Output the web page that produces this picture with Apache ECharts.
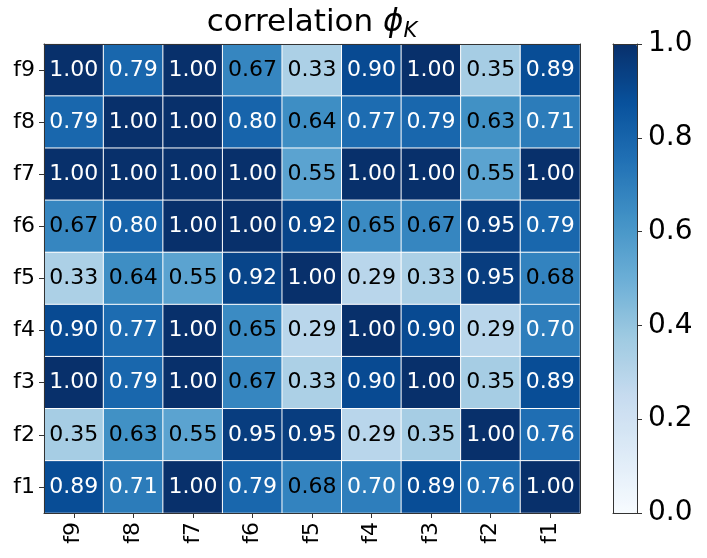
<!DOCTYPE html>
<html>
<head>
<meta charset="utf-8">
<script src="https://cdn.jsdelivr.net/npm/echarts@6/dist/echarts.min.js"></script>
<style>
html,body{margin:0;padding:0;background:#fff;}
#chart{width:707px;height:558px;}
</style>
</head>
<body>
<div id="chart"></div>
<script>
// x categories (left to right) and y categories (bottom to top)
const xCats = ['f9', 'f8', 'f7', 'f6', 'f5', 'f4', 'f3', 'f2', 'f1'];
const yCats = ['f1', 'f2', 'f3', 'f4', 'f5', 'f6', 'f7', 'f8', 'f9'];
// rows, listed top (f9) to bottom (f1); columns follow xCats
const rowF9 = [1.00, 0.79, 1.00, 0.67, 0.33, 0.90, 1.00, 0.35, 0.89];
const rowF8 = [0.79, 1.00, 1.00, 0.80, 0.64, 0.77, 0.79, 0.63, 0.71];
const rowF7 = [1.00, 1.00, 1.00, 1.00, 0.55, 1.00, 1.00, 0.55, 1.00];
const rowF6 = [0.67, 0.80, 1.00, 1.00, 0.92, 0.65, 0.67, 0.95, 0.79];
const rowF5 = [0.33, 0.64, 0.55, 0.92, 1.00, 0.29, 0.33, 0.95, 0.68];
const rowF4 = [0.90, 0.77, 1.00, 0.65, 0.29, 1.00, 0.90, 0.29, 0.70];
const rowF3 = [1.00, 0.79, 1.00, 0.67, 0.33, 0.90, 1.00, 0.35, 0.89];
const rowF2 = [0.35, 0.63, 0.55, 0.95, 0.95, 0.29, 0.35, 1.00, 0.76];
const rowF1 = [0.89, 0.71, 1.00, 0.79, 0.68, 0.70, 0.89, 0.76, 1.00];
const rowsTopDown = [rowF9, rowF8, rowF7, rowF6, rowF5, rowF4, rowF3, rowF2, rowF1];
const colorbarTicks = [0.0, 0.2, 0.4, 0.6, 0.8, 1.0];

const blues = ['#f7fbff', '#deebf7', '#c6dbef', '#9ecae1', '#6baed6', '#4292c6', '#2171b5', '#08519c', '#08306b'];
const FONT = 'DejaVu Sans';

const data = [];
rowsTopDown.forEach((row, r) => {
  row.forEach((v, c) => {
    data.push({
      value: [c, yCats.length - 1 - r, v],
      label: { color: v > 0.69 ? '#ffffff' : '#000000' }
    });
  });
});

const spine = { show: true, onZero: false, lineStyle: { color: '#333', width: 1 } };
const G = { left: 44, top: 44, width: 536, height: 469 };
const CB = { left: 613, top: 44, width: 24, height: 469 };

const chart = echarts.init(document.getElementById('chart'), null, { renderer: 'canvas' });
chart.setOption({
  backgroundColor: '#ffffff',
  animation: false,
  title: {
    text: '{a|correlation }{b|ϕ}{c|K}',
    left: 312, textAlign: 'center', top: 4, padding: 0,
    textStyle: {
      fontWeight: 'normal',
      rich: {
        a: { fontFamily: FONT, fontSize: 31, fontWeight: 'normal', color: '#000', lineHeight: 38 },
        b: { fontFamily: FONT, fontSize: 31, fontWeight: 'normal', fontStyle: 'italic', color: '#000', lineHeight: 38 },
        c: { fontFamily: FONT, fontSize: 21, fontWeight: 'normal', fontStyle: 'italic', color: '#000', lineHeight: 21, padding: [16, 0, 0, 0], verticalAlign: 'bottom' }
      }
    }
  },
  grid: [
    Object.assign({ containLabel: false }, G),
    Object.assign({ containLabel: false }, CB)
  ],
  xAxis: [
    {
      gridIndex: 0, type: 'category', data: xCats, position: 'bottom', z: 10,
      axisLine: spine,
      axisTick: { show: true, alignWithLabel: true, length: 5, lineStyle: { color: '#333' } },
      axisLabel: { rotate: 90, fontFamily: FONT, fontSize: 22, color: '#000', margin: 9 },
      splitLine: { show: false }
    },
    {
      gridIndex: 0, type: 'category', data: xCats, position: 'top', z: 10,
      axisLine: spine, axisTick: { show: false }, axisLabel: { show: false }
    },
    {
      gridIndex: 1, type: 'value', min: 0, max: 1, position: 'bottom', z: 10,
      axisLine: spine, axisTick: { show: false }, axisLabel: { show: false }, splitLine: { show: false }
    },
    {
      gridIndex: 1, type: 'value', min: 0, max: 1, position: 'top', z: 10,
      axisLine: spine, axisTick: { show: false }, axisLabel: { show: false }, splitLine: { show: false }
    }
  ],
  yAxis: [
    {
      gridIndex: 0, type: 'category', data: yCats, position: 'left', z: 10,
      axisLine: spine,
      axisTick: { show: true, alignWithLabel: true, length: 5, lineStyle: { color: '#333' } },
      axisLabel: { fontFamily: FONT, fontSize: 22, color: '#000', margin: 9 },
      splitLine: { show: false }
    },
    {
      gridIndex: 0, type: 'category', data: yCats, position: 'right', z: 10,
      axisLine: spine, axisTick: { show: false }, axisLabel: { show: false }
    },
    {
      gridIndex: 1, type: 'value', min: 0, max: 1, interval: 0.2, position: 'right', z: 10,
      axisLine: spine,
      axisTick: { show: true, length: 5, lineStyle: { color: '#333' } },
      axisLabel: { fontFamily: FONT, fontSize: 28, color: '#000', margin: 11,
        formatter: v => colorbarTicks.some(t => Math.abs(t - v) < 1e-9) ? v.toFixed(1) : '' },
      splitLine: { show: false }
    },
    {
      gridIndex: 1, type: 'value', min: 0, max: 1, position: 'left', z: 10,
      axisLine: spine, axisTick: { show: false }, axisLabel: { show: false }, splitLine: { show: false }
    }
  ],
  visualMap: {
    type: 'continuous', min: 0, max: 1, seriesIndex: 0,
    calculable: false, realtime: false, showLabel: false, text: null,
    orient: 'vertical', left: CB.left, top: CB.top, padding: 0,
    itemWidth: CB.width, itemHeight: CB.height,
    inRange: { color: blues }
  },
  series: [
    {
      type: 'heatmap', xAxisIndex: 0, yAxisIndex: 0, data: data,
      itemStyle: { borderColor: '#ffffff', borderWidth: 1 },
      label: { show: true, fontFamily: FONT, fontSize: 22, formatter: p => p.value[2].toFixed(2) },
      emphasis: { disabled: true }
    },
    {
      type: 'line', xAxisIndex: 2, yAxisIndex: 2, data: [], silent: true
    }
  ]
});
</script>
</body>
</html>
